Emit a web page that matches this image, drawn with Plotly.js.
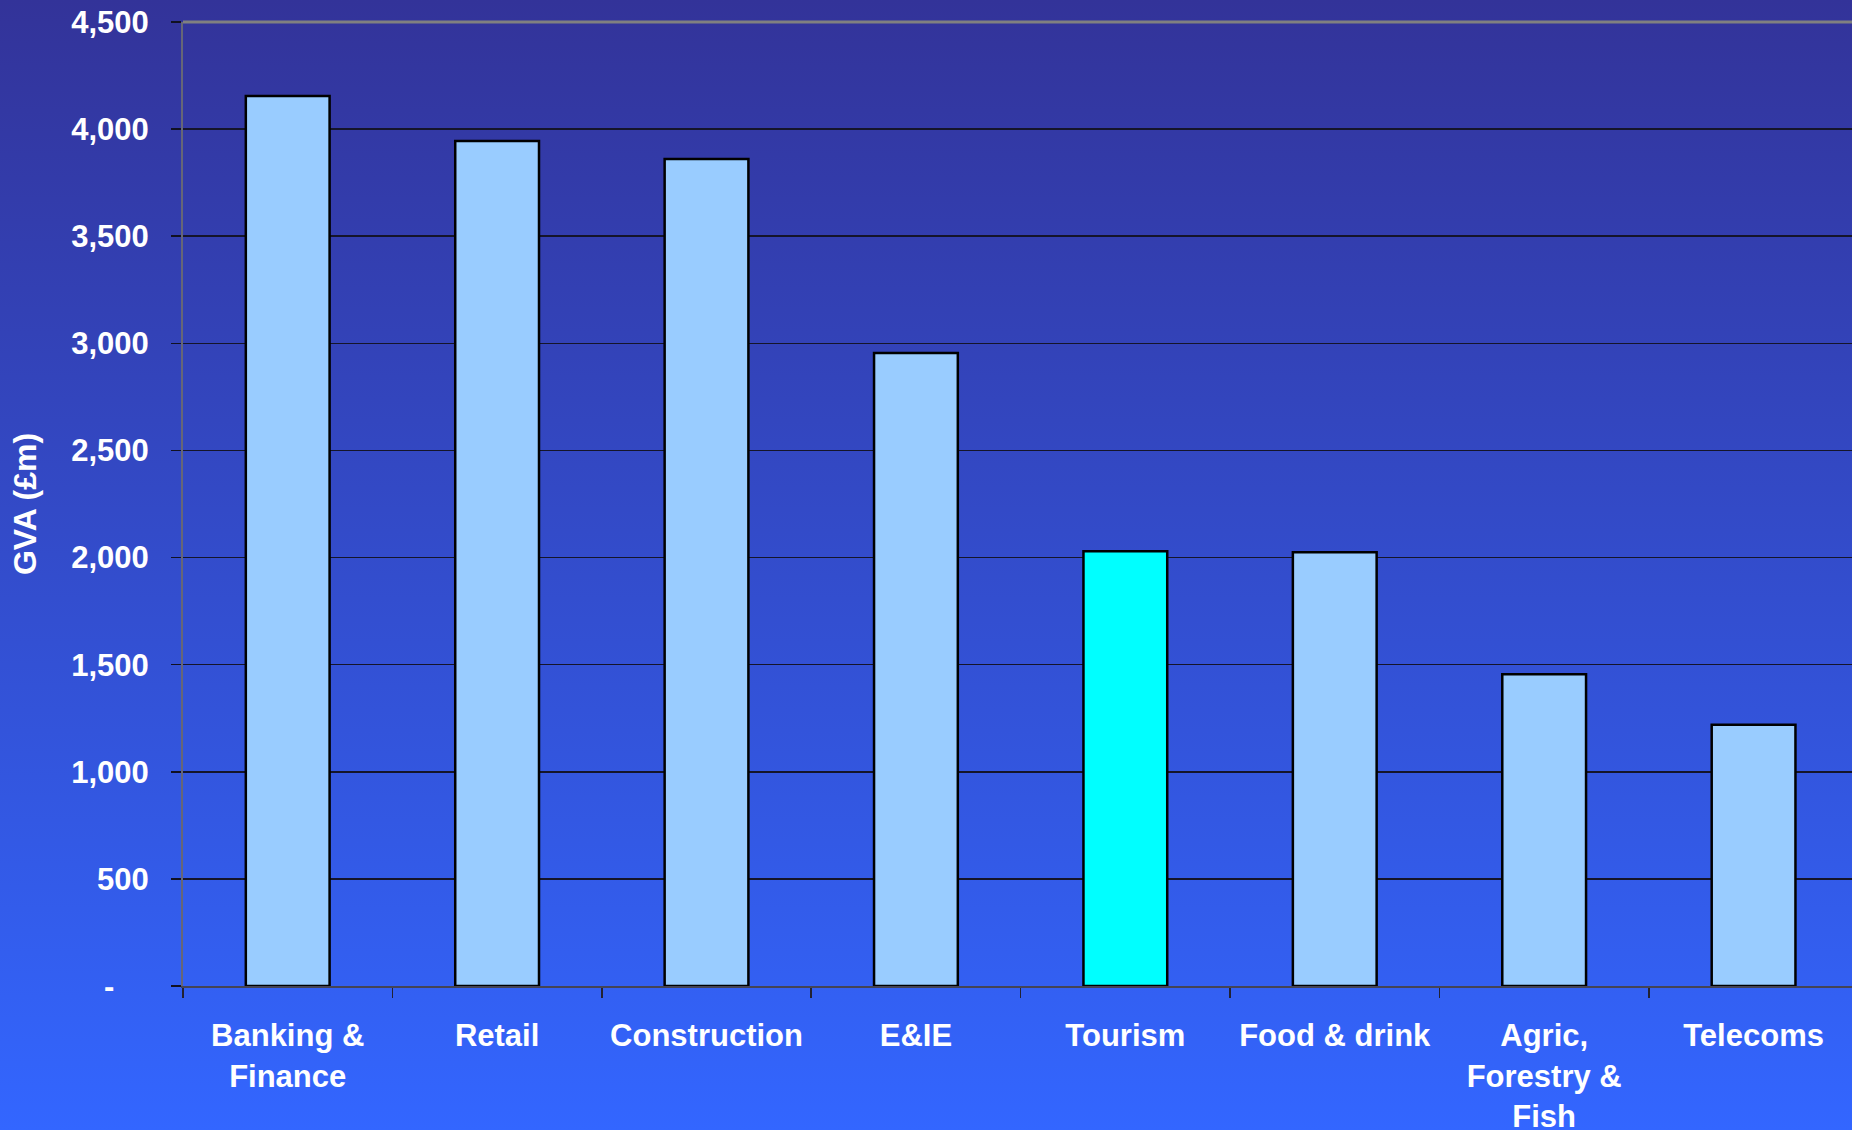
<!DOCTYPE html>
<html>
<head>
<meta charset="utf-8">
<script src="https://cdn.plot.ly/plotly-3.0.1.min.js"></script>
<style>
  html, body { margin: 0; padding: 0; width: 1852px; height: 1130px; overflow: hidden;
    background: linear-gradient(to bottom, #333399 0%, #3366FF 100%); }
  #chart { width: 1852px; height: 1130px; }
</style>
</head>
<body>
<div id="chart"></div>
<script>
const categories = ["Banking &<br>Finance", "Retail", "Construction", "E&IE", "Tourism", "Food & drink", "Agric,<br>Forestry &<br>Fish", "Telecoms"];
const gvaValues = [4155, 3945, 3860, 2955, 2030, 2025, 1455, 1220];
const barColors = ["#99CCFF", "#99CCFF", "#99CCFF", "#99CCFF", "#00FFFF", "#99CCFF", "#99CCFF", "#99CCFF"];
const yTickVals = [0, 500, 1000, 1500, 2000, 2500, 3000, 3500, 4000, 4500];
const yTickText = ["-\u00a0\u00a0\u00a0\u00a0", "500", "1,000", "1,500", "2,000", "2,500", "3,000", "3,500", "4,000", "4,500"];

const fam = "Liberation Sans, Arial, sans-serif";

const trace = {
  type: "bar",
  x: categories,
  y: gvaValues,
  marker: { color: barColors, line: { color: "#000000", width: 2.5 } },
  hoverinfo: "skip"
};

const layout = {
  width: 1852, height: 1130,
  margin: { l: 183, r: 0, t: 22, b: 144, pad: 0 },
  paper_bgcolor: "rgba(0,0,0,0)",
  plot_bgcolor: "rgba(0,0,0,0)",
  showlegend: false,
  bargap: 0.6,
  font: { family: fam, color: "#FFFFFF", size: 30, weight: "bold" },
  xaxis: {
    type: "category",
    range: [-0.5, 7.47],
    tickson: "boundaries",
    ticks: "outside", ticklen: 10, tickwidth: 1.5, tickcolor: "#222233",
    showline: true, linecolor: "#444455", linewidth: 2,
    showgrid: false, zeroline: false,
    ticklabelstandoff: 21,
    tickfont: { family: fam, color: "#FFFFFF", size: 31, weight: "bold" }
  },
  yaxis: {
    range: [0, 4500],
    tickmode: "array",
    tickvals: yTickVals,
    ticktext: yTickText,
    ticks: "outside", ticklen: 10, tickwidth: 1.5, tickcolor: "#111122",
    showline: true, linecolor: "#666677", linewidth: 2,
    showgrid: true, gridcolor: "#15152a", gridwidth: 1.5,
    zeroline: false,
    ticklabelstandoff: 16,
    tickfont: { family: fam, color: "#FFFFFF", size: 31, weight: "bold" },
    title: { text: "GVA (£m)", standoff: 25, font: { family: fam, color: "#FFFFFF", size: 32, weight: "bold" } }
  },
  shapes: [
    { type: "line", xref: "paper", yref: "paper", x0: 0, x1: 1, y0: 1, y1: 1,
      line: { color: "#808080", width: 3 }, layer: "above" }
  ]
};

Plotly.newPlot("chart", [trace], layout, { staticPlot: true, displayModeBar: false });
</script>
</body>
</html>
